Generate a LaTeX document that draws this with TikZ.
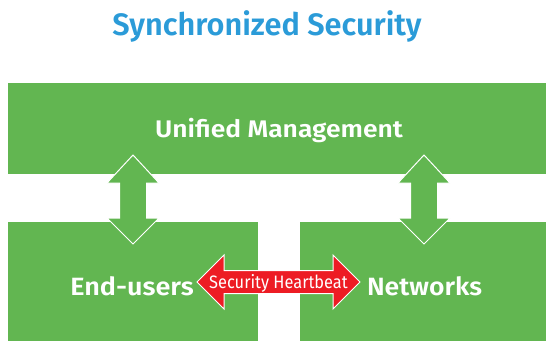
\documentclass[tikz,border=0pt]{standalone}
\usepackage{fontspec}
\setmainfont{Fira Sans}[BoldFont={Fira Sans SemiBold}]
\definecolor{panelgreen}{HTML}{62B651}
\definecolor{beatred}{HTML}{ED1C24}
\definecolor{titleblue}{HTML}{2B9BD8}
\tikzset{
  panel/.style={fill=panelgreen, draw=none},
  blockarrow/.style={fill=panelgreen, draw=white, line width=1pt, line join=miter},
  beatarrow/.style={fill=beatred, draw=white, line width=1pt, line join=miter},
  label/.style={text=white, font=\bfseries, anchor=base, inner sep=0pt},
}
\begin{document}
\begin{tikzpicture}[x=1pt,y=-1pt]
\useasboundingbox (0,0) rectangle (546,341);

% title
\node[anchor=base, inner sep=0pt, text=titleblue, font=\fontsize{31}{36}\selectfont\bfseries] (title) at (267,35) {\scalebox{0.99}[1]{Synchronized Security}};

% panels
\path[panel] (8,83) rectangle (546,174);
\path[panel] (8,222) rectangle (258,341);
\path[panel] (300,222) rectangle (546,341);

% vertical double arrows between management and the two lower panels
\foreach \cx in {133,424}{
  \draw[blockarrow] (\cx,155) -- (\cx+26,183) -- (\cx+13.5,183) -- (\cx+13.5,218)
    -- (\cx+26,218) -- (\cx,244) -- (\cx-26,218) -- (\cx-13.5,218)
    -- (\cx-13.5,183) -- (\cx-26,183) -- cycle;
}

% heartbeat double arrow
\draw[beatarrow] (197,282) -- (224,255) -- (224,270.5) -- (333,270.5) -- (333,255)
  -- (360,282) -- (333,309) -- (333,293.5) -- (224,293.5) -- (224,309) -- cycle;

% labels
\node[label, font=\fontsize{24}{28}\selectfont\bfseries] (mgmtlabel) at (279,137) {\scalebox{1.1}[1]{Unified Management}};
\node[label, font=\fontsize{25}{30}\selectfont\bfseries] (userslabel) at (132,295) {\scalebox{1.08}[1]{End-users}};
\node[label, font=\fontsize{25}{30}\selectfont\bfseries] (netslabel) at (424.5,295) {\scalebox{1.06}[1]{Networks}};
\node[text=white, anchor=base, inner sep=0pt, font=\fontsize{18}{22}\selectfont] (beatlabel) at (278.5,288) {\scalebox{0.91}[1]{Security Heartbeat}};
\end{tikzpicture}
\end{document}
